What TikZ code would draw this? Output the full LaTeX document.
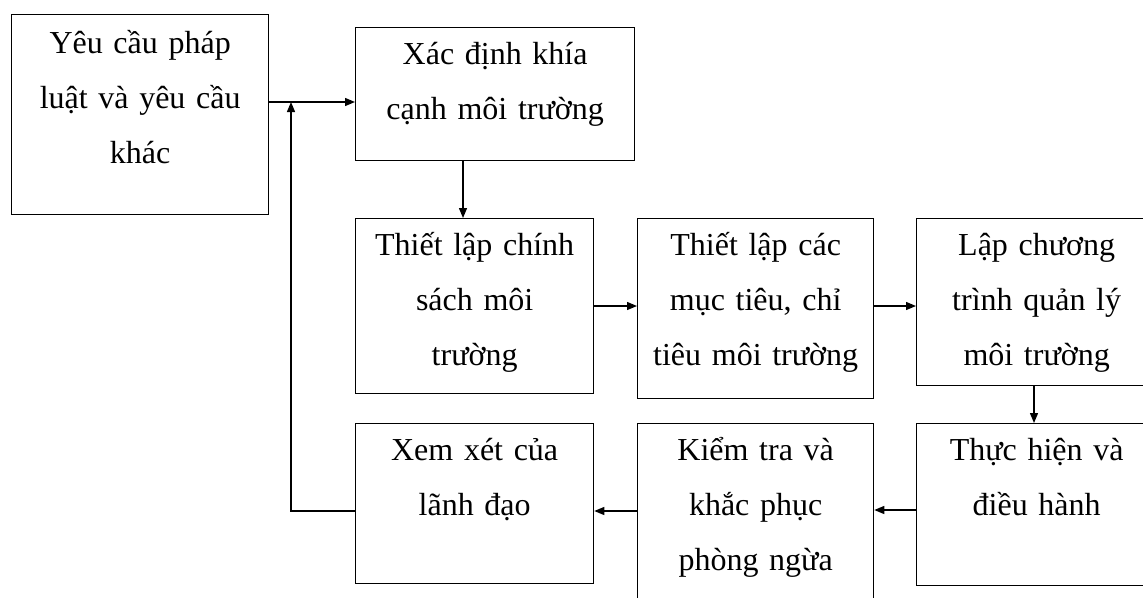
\documentclass[tikz,border=0pt]{standalone}
\usepackage{fontspec}
\setmainfont{Liberation Serif}
\usetikzlibrary{arrows.meta}
\begin{document}
\begin{tikzpicture}[x=1pt,y=-1pt,
  box/.style={draw, line width=1.3pt, inner sep=0pt, anchor=north west},
  txt/.style={font=\fontsize{32}{55}\selectfont, align=center, text width=260pt, inner sep=0pt, anchor=base},
  arr/.style={line width=1.3pt, -{Triangle[length=10pt,width=8pt]}}]
\useasboundingbox (0,0) rectangle (1143,597);
\clip (0,0) rectangle (1143,597);
\fill[white] (0,0) rectangle (1143,597);
% boxes
\node[box, minimum width=257pt, minimum height=200pt] (b1) at (11,14) {};
\node[box, minimum width=279pt, minimum height=133pt] (b2) at (355,27) {};
\node[box, minimum width=238pt, minimum height=175pt] (b3) at (355,218) {};
\node[box, minimum width=236pt, minimum height=180pt] (b4) at (637,218) {};
\node[box, minimum width=240pt, minimum height=167pt] (b5) at (916,218) {};
\node[box, minimum width=240pt, minimum height=162pt] (b6) at (916,423) {};
\node[box, minimum width=236pt, minimum height=182pt] (b7) at (637,423) {};
\node[box, minimum width=238pt, minimum height=160pt] (b8) at (355,423) {};
% texts
\node[txt] (t1) at ([yshift=-39pt]b1.north) {Yêu cầu pháp\\luật và yêu cầu\\khác};
\node[txt] (t2) at ([yshift=-37pt]b2.north) {Xác định khía\\cạnh môi trường};
\node[txt] (t3) at ([yshift=-37pt]b3.north) {Thiết lập chính\\sách môi\\trường};
\node[txt] (t4) at ([yshift=-37pt]b4.north) {Thiết lập các\\mục tiêu, chỉ\\tiêu môi trường};
\node[txt] (t5) at ([yshift=-37pt]b5.north) {Lập chương\\trình quản lý\\môi trường};
\node[txt] (t6) at ([yshift=-37pt]b6.north) {Thực hiện và\\điều hành};
\node[txt] (t7) at ([yshift=-37pt]b7.north) {Kiểm tra và\\khắc phục\\phòng ngừa};
\node[txt] (t8) at ([yshift=-37pt]b8.north) {Xem xét của\\lãnh đạo};
% connectors
\coordinate (j) at (291,102);
\draw[arr] (b1.east |- j) -- (b2.west |- j);
\draw[arr] (b8.west |- 0,511) -| (j);
\draw[arr] (b2.south -| 463,0) -- (b3.north -| 463,0);
\draw[arr] (b3.east |- 0,306) -- (b4.west |- 0,306);
\draw[arr] (b4.east |- 0,306) -- (b5.west |- 0,306);
\draw[arr] (b5.south -| 1034,0) -- (b6.north -| 1034,0);
\draw[arr] (b6.west |- 0,510) -- (b7.east |- 0,510);
\draw[arr] (b7.west |- 0,511) -- (b8.east |- 0,511);
\end{tikzpicture}
\end{document}
